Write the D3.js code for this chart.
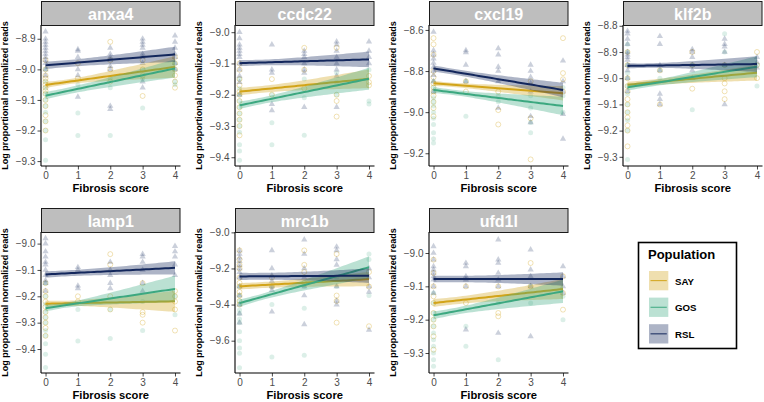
<!DOCTYPE html>
<html><head><meta charset="utf-8">
<script src="https://cdn.jsdelivr.net/npm/d3@7"></script>
<style>
body{margin:0;background:#fff}
svg{display:block}
text{font-family:"Liberation Sans",Arial,Helvetica,sans-serif}
</style>
</head><body>
<svg id="chart" width="764" height="402"></svg>
<script>
// ---------------- DATA ----------------
const genes = ["anxa4","ccdc22","cxcl19","klf2b","lamp1","mrc1b","ufd1l"];
const populations = ["SAY","GOS","RSL"];
const popColors = ["#D2A419","#3CA880","#13275C"];
const xTicks = [0,1,2,3,4];

// y-axis ranges and tick labels, one per gene (genes order)
const yDomains = [[-9.316,-8.855],[-9.428,-8.977],[-9.262,-8.576],[-9.335,-8.797],[-9.491,-8.956],[-9.779,-8.998],[-9.36,-8.937]];
const yTickSets = [
  [-8.9,-9.0,-9.1,-9.2,-9.3],
  [-9.0,-9.1,-9.2,-9.3,-9.4],
  [-8.6,-8.8,-9.0,-9.2],
  [-8.8,-8.9,-9.0,-9.1,-9.2,-9.3],
  [-9.0,-9.1,-9.2,-9.3,-9.4],
  [-9.0,-9.2,-9.4,-9.6],
  [-9.0,-9.1,-9.2,-9.3]
];

// observations: [fibrosis score, log proportional normalized reads]
const anxa4_SAY = [[0,-8.97],[0,-9.0],[0,-9.02],[0,-9.03],[0,-9.04],[0,-9.05],[0,-9.06],[0,-9.07],[0,-9.08],[0,-9.1],[0,-9.12],[0,-9.15],[0,-9.17],[0,-9.2],[1,-8.98],[1,-9.03],[2,-8.91],[2,-8.97],[2,-9.0],[2,-9.04],[3,-8.97],[3,-9.0],[3,-9.02],[3,-9.087],[4,-8.96],[4,-8.98],[4,-9.0],[4,-9.02],[4,-9.04],[4,-9.06]];
const anxa4_GOS = [[0,-9.0],[0,-9.04],[0,-9.06],[0,-9.08],[0,-9.1],[0,-9.12],[0,-9.14],[0,-9.17],[0,-9.2],[0,-9.23],[0,-9.297],[1,-9.05],[1,-9.143],[1,-9.216],[2,-9.03],[2,-9.06],[2,-9.216],[3,-9.0],[3,-9.03],[3,-9.126],[4,-8.98],[4,-9.0],[4,-9.04],[4,-9.05]];
const anxa4_RSL = [[0,-8.877],[0,-8.9],[0,-8.91],[0,-8.92],[0,-8.93],[0,-8.94],[0,-8.95],[0,-8.96],[0,-8.97],[0,-8.98],[0,-9.0],[0,-9.02],[1,-8.935],[1,-8.94],[1,-8.96],[1,-9.0],[1,-9.02],[1,-9.09],[2,-8.93],[2,-8.95],[2,-8.96],[2,-8.97],[2,-8.99],[2,-9.0],[2,-9.12],[2,-9.13],[3,-8.9],[3,-8.91],[3,-8.92],[3,-8.93],[3,-8.95],[3,-8.96],[3,-8.98],[3,-9.04],[3,-9.06],[4,-8.89],[4,-8.91],[4,-8.93],[4,-8.95],[4,-8.96],[4,-8.98],[4,-9.0]];

const ccdc22_SAY = [[0,-9.1],[0,-9.12],[0,-9.15],[0,-9.17],[0,-9.19],[0,-9.2],[0,-9.22],[0,-9.24],[0,-9.26],[0,-9.28],[0,-9.3],[0,-9.33],[1,-9.15],[1,-9.2],[2,-9.05],[2,-9.12],[2,-9.18],[3,-9.05],[3,-9.2],[3,-9.22],[3,-9.27],[4,-9.14],[4,-9.16],[4,-9.17]];
const ccdc22_GOS = [[0,-9.15],[0,-9.18],[0,-9.2],[0,-9.22],[0,-9.24],[0,-9.26],[0,-9.28],[0,-9.3],[0,-9.32],[0,-9.36],[0,-9.38],[0,-9.41],[1,-9.2],[1,-9.29],[1,-9.36],[2,-9.15],[2,-9.21],[2,-9.33],[3,-9.13],[3,-9.16],[3,-9.2],[4,-9.12],[4,-9.22],[4,-9.23]];
const ccdc22_RSL = [[0,-9.0],[0,-9.02],[0,-9.04],[0,-9.05],[0,-9.06],[0,-9.07],[0,-9.08],[0,-9.1],[0,-9.12],[0,-9.14],[0,-9.16],[0,-9.2],[1,-9.04],[1,-9.12],[1,-9.13],[1,-9.23],[1,-9.25],[2,-9.06],[2,-9.07],[2,-9.08],[2,-9.1],[2,-9.12],[2,-9.13],[2,-9.24],[3,-9.03],[3,-9.04],[3,-9.06],[3,-9.08],[3,-9.1],[3,-9.12],[3,-9.14],[3,-9.24],[4,-9.03],[4,-9.06],[4,-9.08],[4,-9.1]];

const cxcl19_SAY = [[0,-8.64],[0,-8.67],[0,-8.72],[0,-8.8],[0,-8.83],[0,-8.86],[0,-8.88],[0,-8.9],[0,-8.92],[0,-8.95],[0,-8.98],[0,-9.02],[1,-8.85],[1,-8.9],[2,-8.9],[2,-8.99],[2,-9.06],[3,-8.85],[3,-9.03],[3,-9.23],[4,-8.64],[4,-8.81],[4,-8.84],[4,-8.9]];
const cxcl19_GOS = [[0,-8.85],[0,-8.88],[0,-8.9],[0,-8.93],[0,-8.95],[0,-8.97],[0,-9.0],[0,-9.03],[0,-9.06],[0,-9.1],[0,-9.13],[0,-9.15],[1,-8.85],[1,-9.02],[2,-8.92],[2,-8.95],[3,-8.92],[3,-8.98],[3,-9.05],[3,-9.1],[4,-8.88],[4,-8.92],[4,-9.0]];
const cxcl19_RSL = [[0,-8.61],[0,-8.7],[0,-8.72],[0,-8.74],[0,-8.76],[0,-8.78],[0,-8.8],[0,-8.82],[0,-8.85],[0,-8.9],[1,-8.7],[1,-8.71],[1,-8.77],[1,-8.85],[2,-8.69],[2,-8.72],[2,-8.78],[2,-8.8],[2,-8.85],[2,-8.98],[3,-8.77],[3,-8.8],[3,-8.83],[3,-8.86],[3,-8.9],[3,-9.02],[3,-9.05],[4,-8.75],[4,-8.85],[4,-8.9],[4,-9.01],[4,-9.13]];

const klf2b_SAY = [[0,-8.9],[0,-8.95],[0,-9.0],[0,-9.03],[0,-9.05],[0,-9.08],[0,-9.1],[0,-9.13],[0,-9.15],[0,-9.18],[0,-9.2],[0,-9.26],[1,-8.97],[1,-9.1],[2,-8.9],[2,-8.95],[2,-9.04],[3,-8.95],[3,-9.0],[3,-9.02],[3,-9.05],[3,-9.08],[4,-8.9],[4,-8.95],[4,-9.0]];
const klf2b_GOS = [[0,-8.87],[0,-8.9],[0,-8.95],[0,-8.98],[0,-9.0],[0,-9.03],[0,-9.06],[0,-9.1],[0,-9.13],[0,-9.16],[0,-9.2],[0,-9.31],[1,-8.97],[1,-9.0],[2,-8.95],[2,-9.12],[3,-8.83],[3,-8.9],[3,-8.95],[4,-8.95],[4,-9.03]];
const klf2b_RSL = [[0,-8.82],[0,-8.83],[0,-8.85],[0,-8.87],[0,-8.9],[0,-8.91],[0,-8.92],[0,-8.93],[0,-8.95],[0,-8.97],[0,-9.0],[0,-9.05],[1,-8.84],[1,-8.87],[1,-8.95],[1,-8.97],[1,-9.06],[1,-9.08],[1,-9.1],[2,-8.89],[2,-8.9],[2,-8.92],[2,-8.95],[2,-8.97],[2,-9.0],[3,-8.85],[3,-8.87],[3,-8.88],[3,-8.9],[3,-8.95],[3,-9.1],[4,-8.92],[4,-8.94],[4,-8.96]];

const lamp1_SAY = [[0,-9.15],[0,-9.18],[0,-9.2],[0,-9.22],[0,-9.24],[0,-9.26],[0,-9.28],[0,-9.3],[0,-9.32],[0,-9.35],[1,-9.2],[1,-9.22],[2,-9.04],[2,-9.08],[2,-9.2],[2,-9.25],[3,-9.15],[3,-9.26],[3,-9.27],[3,-9.3],[4,-9.18],[4,-9.2],[4,-9.22],[4,-9.25],[4,-9.33]];
const lamp1_GOS = [[0,-9.15],[0,-9.2],[0,-9.23],[0,-9.26],[0,-9.28],[0,-9.3],[0,-9.33],[0,-9.35],[0,-9.38],[0,-9.42],[0,-9.47],[1,-9.25],[1,-9.37],[2,-9.25],[2,-9.36],[3,-9.22],[3,-9.33],[4,-9.2],[4,-9.27]];
const lamp1_RSL = [[0,-8.98],[0,-9.0],[0,-9.03],[0,-9.05],[0,-9.07],[0,-9.08],[0,-9.1],[0,-9.12],[0,-9.14],[0,-9.15],[0,-9.18],[1,-9.09],[1,-9.1],[1,-9.16],[1,-9.17],[2,-9.07],[2,-9.1],[2,-9.12],[2,-9.15],[2,-9.17],[3,-9.04],[3,-9.05],[3,-9.07],[3,-9.1],[3,-9.15],[3,-9.18],[4,-9.01],[4,-9.03],[4,-9.05],[4,-9.08],[4,-9.12]];

const mrc1b_SAY = [[0,-9.1],[0,-9.15],[0,-9.18],[0,-9.2],[0,-9.25],[0,-9.28],[0,-9.3],[0,-9.33],[0,-9.35],[0,-9.38],[0,-9.4],[1,-9.25],[1,-9.3],[2,-9.1],[2,-9.18],[2,-9.22],[2,-9.28],[3,-9.12],[3,-9.35],[3,-9.38],[3,-9.5],[4,-9.22],[4,-9.3],[4,-9.52]];
const mrc1b_GOS = [[0,-9.3],[0,-9.35],[0,-9.38],[0,-9.4],[0,-9.43],[0,-9.45],[0,-9.48],[0,-9.5],[0,-9.55],[0,-9.6],[0,-9.64],[0,-9.67],[0,-9.75],[1,-9.3],[1,-9.4],[1,-9.69],[2,-9.3],[2,-9.42],[2,-9.68],[3,-9.25],[3,-9.3],[4,-9.12],[4,-9.15],[4,-9.35]];
const mrc1b_RSL = [[0,-9.1],[0,-9.12],[0,-9.14],[0,-9.16],[0,-9.18],[0,-9.2],[0,-9.22],[0,-9.25],[0,-9.3],[0,-9.35],[0,-9.4],[0,-9.45],[0,-9.5],[1,-9.1],[1,-9.2],[1,-9.24],[1,-9.27],[1,-9.3],[1,-9.32],[1,-9.44],[2,-9.04],[2,-9.12],[2,-9.2],[2,-9.25],[2,-9.3],[2,-9.35],[2,-9.51],[3,-9.08],[3,-9.1],[3,-9.15],[3,-9.18],[3,-9.3],[3,-9.38],[3,-9.4],[4,-9.2],[4,-9.25],[4,-9.3],[4,-9.33],[4,-9.54]];

const ufd1l_SAY = [[0,-9.02],[0,-9.06],[0,-9.1],[0,-9.13],[0,-9.15],[0,-9.18],[0,-9.2],[0,-9.22],[0,-9.25],[0,-9.29],[1,-9.1],[1,-9.15],[2,-9.1],[2,-9.18],[2,-9.19],[3,-9.03],[3,-9.1],[4,-9.07],[4,-9.12],[4,-9.17]];
const ufd1l_GOS = [[0,-9.12],[0,-9.15],[0,-9.18],[0,-9.2],[0,-9.22],[0,-9.24],[0,-9.26],[0,-9.28],[0,-9.3],[0,-9.32],[0,-9.34],[1,-9.22],[1,-9.28],[2,-9.15],[2,-9.32],[3,-9.1],[3,-9.15],[4,-9.13],[4,-9.2]];
const ufd1l_RSL = [[0,-8.98],[0,-9.0],[0,-9.02],[0,-9.04],[0,-9.05],[0,-9.06],[0,-9.07],[0,-9.08],[0,-9.1],[0,-9.12],[1,-9.03],[1,-9.04],[1,-9.07],[1,-9.08],[1,-9.1],[1,-9.23],[2,-8.96],[2,-9.02],[2,-9.03],[2,-9.06],[2,-9.08],[2,-9.1],[2,-9.24],[3,-8.99],[3,-9.05],[3,-9.07],[3,-9.1],[3,-9.25],[4,-9.04],[4,-9.07],[4,-9.1],[4,-9.12]];

// fitted linear trends per gene (genes order): [value at 0, value at 4, CI half-width at 0, CI half-width at 4]
const fitSAY = [[-9.051,-8.992,0.010,0.035],[-9.19,-9.149,0.012,0.030],[-8.86,-8.908,0.012,0.035],[-9.025,-8.979,0.012,0.030],[-9.228,-9.219,0.012,0.040],[-9.299,-9.259,0.018,0.040],[-9.15,-9.108,0.012,0.030]];
const fitGOS = [[-9.086,-8.997,0.012,0.030],[-9.234,-9.149,0.012,0.035],[-8.892,-8.97,0.015,0.045],[-9.035,-8.956,0.013,0.040],[-9.245,-9.172,0.013,0.050],[-9.392,-9.193,0.020,0.060],[-9.187,-9.115,0.012,0.035]];
const fitRSL = [[-8.987,-8.951,0.012,0.025],[-9.099,-9.087,0.010,0.025],[-8.787,-8.892,0.015,0.035],[-8.953,-8.946,0.010,0.030],[-9.117,-9.092,0.012,0.025],[-9.244,-9.24,0.020,0.040],[-9.078,-9.078,0.010,0.020]];

// ---------------- LAYOUT ----------------
const obs = {anxa4:[anxa4_SAY,anxa4_GOS,anxa4_RSL],ccdc22:[ccdc22_SAY,ccdc22_GOS,ccdc22_RSL],cxcl19:[cxcl19_SAY,cxcl19_GOS,cxcl19_RSL],klf2b:[klf2b_SAY,klf2b_GOS,klf2b_RSL],lamp1:[lamp1_SAY,lamp1_GOS,lamp1_RSL],mrc1b:[mrc1b_SAY,mrc1b_GOS,mrc1b_RSL],ufd1l:[ufd1l_SAY,ufd1l_GOS,ufd1l_RSL]};
const fits = [fitSAY, fitGOS, fitRSL];

const svg = d3.select("#chart");
const panelW = 139.5, panelH = 141, stripH = 24;
const lefts = [41,235,429,623];
const stripTops = [1,208];
const font = '"Liberation Sans",Arial,Helvetica,sans-serif';

const defs = svg.append("defs");

genes.forEach((g, gi) => {
  const col = gi % 4, row = Math.floor(gi / 4);
  const L = lefts[col];
  const sT = stripTops[row];
  const T = sT + stripH;
  const x = d3.scaleLinear().domain([-0.14, 4.17]).range([L, L + panelW]);
  const y = d3.scaleLinear().domain(yDomains[gi]).range([T + panelH, T]);

  defs.append("clipPath").attr("id", "clip" + gi)
    .append("rect").attr("x", L).attr("y", T).attr("width", panelW).attr("height", panelH);

  const pg = svg.append("g").attr("clip-path", `url(#clip${gi})`);

  // points
  populations.forEach((p, pi) => {
    const data = obs[g][pi];
    const c = popColors[pi];
    if (p === "SAY") {
      pg.append("g").selectAll("circle").data(data).join("circle")
        .attr("cx", d => x(d[0])).attr("cy", d => y(d[1])).attr("r", 2.5)
        .attr("fill", "none").attr("stroke", c).attr("stroke-width", 0.8).attr("stroke-opacity", 0.4);
    } else if (p === "GOS") {
      pg.append("g").selectAll("circle").data(data).join("circle")
        .attr("cx", d => x(d[0])).attr("cy", d => y(d[1])).attr("r", 2.5)
        .attr("fill", c).attr("fill-opacity", 0.18);
    } else {
      const tri = d3.symbol().type(d3.symbolTriangle).size(17);
      pg.append("g").selectAll("path").data(data).join("path")
        .attr("d", tri).attr("transform", d => `translate(${x(d[0])},${y(d[1])})`)
        .attr("fill", c).attr("fill-opacity", 0.22);
    }
  });

  // ribbons + lines
  populations.forEach((p, pi) => {
    const [y0, y4, h0, h4] = fits[pi][gi];
    const c = popColors[pi];
    const m = 0.6;
    // standard error shape of a linear fit: sqrt(a + b (x-m)^2)
    const b = (h4 * h4 - h0 * h0) / ((4 - m) ** 2 - m ** 2);
    const a = h0 * h0 - b * m * m;
    const xs = d3.range(0, 4.001, 0.1);
    const band = xs.map(s => {
      const fv = y0 + (y4 - y0) * s / 4;
      const hw = Math.sqrt(Math.max(a + b * (s - m) ** 2, 1e-8));
      return {s, lo: fv - hw, hi: fv + hw, fv};
    });
    pg.append("path").datum(band)
      .attr("d", d3.area().x(d => x(d.s)).y0(d => y(d.lo)).y1(d => y(d.hi)))
      .attr("fill", c).attr("fill-opacity", 0.35);
    pg.append("path").datum(band)
      .attr("d", d3.line().x(d => x(d.s)).y(d => y(d.fv)))
      .attr("fill", "none").attr("stroke", c).attr("stroke-width", 2);
  });

  // axes
  const ax = svg.append("g").attr("transform", `translate(0,${T + panelH})`)
    .call(d3.axisBottom(x).tickValues(xTicks).tickSize(3.5).tickSizeOuter(0).tickPadding(2).tickFormat(d3.format("d")));
  const ay = svg.append("g").attr("transform", `translate(${L},0)`)
    .call(d3.axisLeft(y).tickValues(yTickSets[gi]).tickSize(3.5).tickSizeOuter(0).tickPadding(2).tickFormat(d3.format(".1f")));
  [ax, ay].forEach(a => {
    a.select(".domain").remove();
    a.selectAll(".tick line").attr("stroke", "#333").attr("stroke-width", 0.9);
    a.selectAll(".tick text").attr("fill", "#4D4D4D").attr("font-size", 10).attr("font-family", font);
  });
  svg.append("line").attr("x1", L).attr("x2", L + panelW).attr("y1", T + panelH).attr("y2", T + panelH)
    .attr("stroke", "#000").attr("stroke-width", 1.1);
  svg.append("line").attr("x1", L).attr("x2", L).attr("y1", T).attr("y2", T + panelH)
    .attr("stroke", "#000").attr("stroke-width", 1.1);

  // strip
  svg.append("rect").attr("x", L + 0.5).attr("y", sT + 0.5).attr("width", panelW - 1).attr("height", stripH)
    .attr("fill", "#BEBEBE").attr("stroke", "#1a1a1a").attr("stroke-width", 1);
  svg.append("text").attr("x", L + panelW / 2).attr("y", sT + stripH / 2 + 1).attr("text-anchor", "middle")
    .attr("dominant-baseline", "central").attr("fill", "#fff").attr("font-weight", "bold").attr("font-size", 16)
    .text(g);

  // axis titles
  svg.append("text").attr("x", L + panelW / 2).attr("y", T + panelH + 22).attr("text-anchor", "middle")
    .attr("dominant-baseline", "central").attr("font-weight", "bold").attr("font-size", 11.2).attr("fill", "#000")
    .text("Fibrosis score");
  svg.append("text").attr("transform", `translate(${L - 36},${T + panelH / 2}) rotate(-90)`)
    .attr("text-anchor", "middle").attr("dominant-baseline", "central").attr("font-weight", "bold")
    .attr("font-size", 9).attr("fill", "#000").text("Log proportional normalized reads");
});

// ---------------- LEGEND ----------------
const lg = svg.append("g");
lg.append("rect").attr("x", 638.5).attr("y", 242.5).attr("width", 98).attr("height", 106)
  .attr("fill", "#fff").attr("stroke", "#000").attr("stroke-width", 1.6);
lg.append("text").attr("x", 648).attr("y", 254).attr("dominant-baseline", "central")
  .attr("font-weight", "bold").attr("font-size", 13).text("Population");
populations.forEach((p, i) => {
  const ky = 271 + i * 26.6;
  lg.append("rect").attr("x", 649).attr("y", ky).attr("width", 19.3).attr("height", 19.3)
    .attr("fill", popColors[i]).attr("fill-opacity", 0.35);
  lg.append("line").attr("x1", 650.5).attr("x2", 666.8).attr("y1", ky + 9.65).attr("y2", ky + 9.65)
    .attr("stroke", popColors[i]).attr("stroke-width", 1);
  lg.append("text").attr("x", 675).attr("y", ky + 10).attr("dominant-baseline", "central")
    .attr("font-weight", "bold").attr("font-size", 9.7).text(p);
});
</script>
</body></html>
